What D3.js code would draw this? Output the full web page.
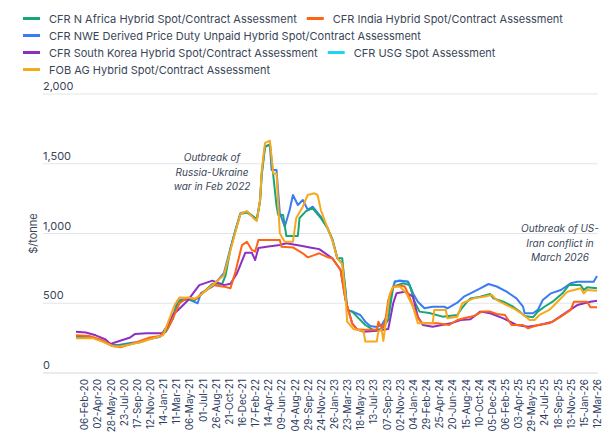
<!DOCTYPE html>
<html>
<head>
<meta charset="utf-8">
<script src="https://d3js.org/d3.v7.min.js"></script>
<style>
  body { margin: 0; background: #fff; }
  text { font-family: Inter, "Noto Sans", sans-serif; }
</style>
</head>
<body>
<svg id="chart" width="612" height="446"></svg>
<script>
// weeks counted from 02-Jan-20, one assessment per week
const tickLabels = ["06-Feb-20","02-Apr-20","28-May-20","23-Jul-20","17-Sep-20","12-Nov-20",
  "14-Jan-21","11-Mar-21","06-May-21","01-Jul-21","26-Aug-21","21-Oct-21","16-Dec-21",
  "17-Feb-22","14-Apr-22","09-Jun-22","04-Aug-22","29-Sep-22","24-Nov-22",
  "26-Jan-23","23-Mar-23","18-May-23","13-Jul-23","07-Sep-23","02-Nov-23",
  "04-Jan-24","29-Feb-24","25-Apr-24","20-Jun-24","15-Aug-24","10-Oct-24","05-Dec-24",
  "06-Feb-25","03-Apr-25","29-May-25","24-Jul-25","18-Sep-25","13-Nov-25",
  "15-Jan-26","12-Mar-26"];
const tickWeeks = tickLabels.map((d, i) => 5 + 8 * i);
const yTicks = [0, 500, 1000, 1500, 2000];

const nwe = [[0,260],[6,260],[10,255],[16,230],[22,200],[26,200],[33,215],[39,224],[43,240],[51,260],[55,330],[59,404],[62,523],[68,530],[72,510],[74,500],[76,573],[83,620],[90,716],[94,896],[97,1025],[100,1145],[104,1157],[108,1120],[110,1097],[112,1240],[113,1431],[115,1625],[118,1635],[119,1455],[122,1455],[124,1147],[127,1049],[130,1168],[132,1276],[135,1204],[138,1240],[141,1170],[144,1192],[149,1120],[153,1039],[156,953],[159,822],[162,786],[164,595],[165,452],[169,437],[173,416],[176,368],[179,337],[183,330],[186,344],[189,404],[192,571],[194,654],[197,662],[202,654],[205,571],[208,511],[212,464],[217,475],[224,475],[226,464],[232,504],[236,547],[240,571],[246,607],[251,638],[256,620],[262,583],[268,535],[272,475],[273,428],[278,428],[281,452],[284,523],[289,571],[295,595],[301,643],[305,654],[315,654],[317,695]];
const nAfrica = [[0,255],[10,255],[16,230],[22,195],[26,195],[33,210],[39,220],[45,245],[51,260],[55,300],[59,390],[62,510],[68,530],[72,520],[76,560],[83,640],[89,640],[91,700],[94,890],[97,1020],[100,1140],[104,1150],[108,1120],[110,1100],[112,1230],[113,1420],[115,1620],[118,1640],[120,1420],[122,1200],[123,1133],[126,1133],[128,982],[135,982],[136,1111],[140,1160],[144,1180],[149,1110],[153,1040],[156,960],[159,822],[162,822],[163,700],[165,452],[168,440],[171,404],[176,344],[181,308],[186,315],[190,383],[193,619],[199,643],[203,630],[206,511],[209,440],[215,430],[223,404],[232,416],[234,452],[238,511],[240,535],[246,547],[252,566],[254,535],[260,511],[266,475],[270,440],[273,408],[278,399],[281,440],[285,475],[290,511],[296,571],[300,631],[307,631],[309,595],[311,614],[317,607]];
const india = [[0,270],[8,265],[16,235],[22,195],[27,185],[33,205],[39,230],[45,255],[51,265],[56,320],[60,420],[63,500],[68,540],[73,530],[76,565],[83,630],[90,619],[94,608],[97,726],[101,917],[104,941],[107,882],[109,870],[111,953],[124,953],[125,905],[132,900],[138,858],[141,829],[145,845],[148,858],[153,830],[156,822],[161,738],[164,523],[168,356],[171,313],[175,310],[183,310],[184,368],[186,320],[188,360],[190,523],[193,619],[197,627],[200,620],[202,571],[208,392],[211,356],[220,356],[227,344],[232,380],[236,392],[242,408],[247,440],[252,440],[256,423],[261,416],[265,344],[272,344],[275,320],[281,344],[288,356],[295,404],[301,452],[303,511],[311,511],[313,471],[317,471]];
const southKorea = [[0,295],[6,290],[12,270],[18,240],[21,208],[25,224],[33,255],[36,280],[43,285],[53,285],[56,330],[59,420],[62,450],[68,520],[75,630],[83,662],[90,630],[94,640],[98,716],[103,862],[107,862],[109,810],[111,896],[116,905],[124,917],[128,930],[136,914],[144,896],[148,888],[156,822],[161,738],[164,523],[168,356],[171,313],[175,296],[183,303],[190,315],[193,500],[195,571],[200,583],[205,547],[208,404],[211,344],[217,332],[228,356],[234,380],[240,385],[246,440],[252,428],[260,392],[268,344],[275,332],[282,344],[290,368],[299,440],[305,487],[313,511],[317,518]];
const usg = [[192,575],[194,658],[197,664],[202,656],[205,575]];
const fobAG = [[0,250],[10,250],[16,225],[23,190],[27,190],[33,205],[39,220],[43,235],[53,270],[56,363],[60,487],[63,542],[69,540],[72,530],[76,560],[83,630],[90,700],[94,880],[97,1010],[100,1140],[104,1160],[108,1110],[110,1090],[112,1240],[113,1450],[115,1650],[118,1665],[120,1430],[122,1430],[124,1001],[127,941],[132,941],[134,1111],[138,1192],[141,1276],[145,1288],[147,1276],[149,1168],[153,1040],[156,950],[159,822],[162,780],[164,550],[165,368],[169,313],[171,310],[175,300],[176,225],[183,225],[184,300],[186,310],[187,230],[191,571],[193,619],[197,620],[201,571],[205,475],[208,356],[217,356],[218,452],[225,452],[226,392],[232,404],[235,500],[242,535],[248,547],[253,559],[256,523],[262,487],[267,458],[271,428],[276,380],[279,380],[282,416],[288,452],[293,511],[299,583],[307,607],[309,571],[311,595],[317,590]];

const legendRows = [
  [{name: "CFR N Africa Hybrid Spot/Contract Assessment", color: "#1aa672"},
   {name: "CFR India Hybrid Spot/Contract Assessment", color: "#ff6414"}],
  [{name: "CFR NWE Derived Price Duty Unpaid Hybrid Spot/Contract Assessment", color: "#3b7cf4"}],
  [{name: "CFR South Korea Hybrid Spot/Contract Assessment", color: "#8e2fc4"},
   {name: "CFR USG Spot Assessment", color: "#1fd6f2"}],
  [{name: "FOB AG Hybrid Spot/Contract Assessment", color: "#f6a91c"}]
];

const series = [
  {data: usg, color: "#1fd6f2"},
  {data: nwe, color: "#3b7cf4"},
  {data: nAfrica, color: "#1aa672"},
  {data: southKorea, color: "#8e2fc4"},
  {data: india, color: "#ff6414"},
  {data: fobAG, color: "#f6a91c"}
];

const svg = d3.select("svg#chart");
const textColor = "#3a4658";

const x = d3.scaleLinear().domain([0, 317]).range([76, 597]);
const y = d3.scaleLinear().domain([0, 2000]).range([373, 94]);

// gridlines + y labels
const grid = svg.append("g");
grid.selectAll("line").data(yTicks).join("line")
  .attr("x1", 43).attr("x2", 598)
  .attr("y1", d => y(d)).attr("y2", d => y(d))
  .attr("stroke", d => d === 0 ? "#d5d8df" : "#e3e5ea").attr("stroke-width", 1.2);
grid.selectAll("text").data(yTicks).join("text")
  .attr("x", 43).attr("y", d => y(d) - 4)
  .attr("font-size", 11).attr("fill", textColor)
  .text(d => d3.format(",")(d));

svg.append("text")
  .attr("transform", `translate(37,${y(1000)}) rotate(-90)`)
  .attr("text-anchor", "middle")
  .attr("font-size", 11).attr("fill", textColor)
  .text("$/tonne");

// x labels
const xAxis = d3.axisBottom(x).tickValues(tickWeeks)
  .tickFormat((d, i) => tickLabels[i]).tickSize(0);
const gx = svg.append("g").attr("transform", "translate(0,373)").call(xAxis);
gx.select(".domain").remove();
gx.selectAll("text")
  .attr("font-family", "Inter, 'Noto Sans', sans-serif")
  .attr("font-size", 10).attr("fill", "#2c3b5e")
  .attr("text-anchor", "end")
  .attr("transform", "rotate(-90)")
  .attr("x", -6).attr("y", 0).attr("dy", "0.35em");

// lines
const line = d3.line().x(d => x(d[0])).y(d => y(d[1]));
svg.append("g").selectAll("path").data(series).join("path")
  .attr("fill", "none")
  .attr("stroke", d => d.color)
  .attr("stroke-width", 2)
  .attr("stroke-linejoin", "round")
  .attr("d", d => line(d.data));

// annotations
function note(lines, cx, cy) {
  svg.append("g").selectAll("text").data(lines).join("text")
    .attr("x", cx).attr("y", (d, i) => cy + i * 14.5)
    .attr("text-anchor", "middle")
    .attr("font-size", 10).attr("font-style", "italic").attr("fill", textColor)
    .text(d => d);
}
note(["Outbreak of", "Russia-Ukraine", "war in Feb 2022"], 212, 161);
note(["Outbreak of US-", "Iran conflict in", "March 2026"], 560, 232);

// legend
const leg = svg.append("g");
legendRows.forEach((row, r) => {
  let cx = 23;
  const cy = 18.5 + r * 17;
  row.forEach(item => {
    leg.append("line").attr("x1", cx).attr("x2", cx + 17)
      .attr("y1", cy).attr("y2", cy)
      .attr("stroke", item.color).attr("stroke-width", 3);
    const t = leg.append("text").attr("x", cx + 26).attr("y", cy + 4)
      .attr("font-size", 11).attr("fill", textColor).text(item.name);
    cx += 26 + t.node().getComputedTextLength() + 10;
  });
});
</script>
</body>
</html>
